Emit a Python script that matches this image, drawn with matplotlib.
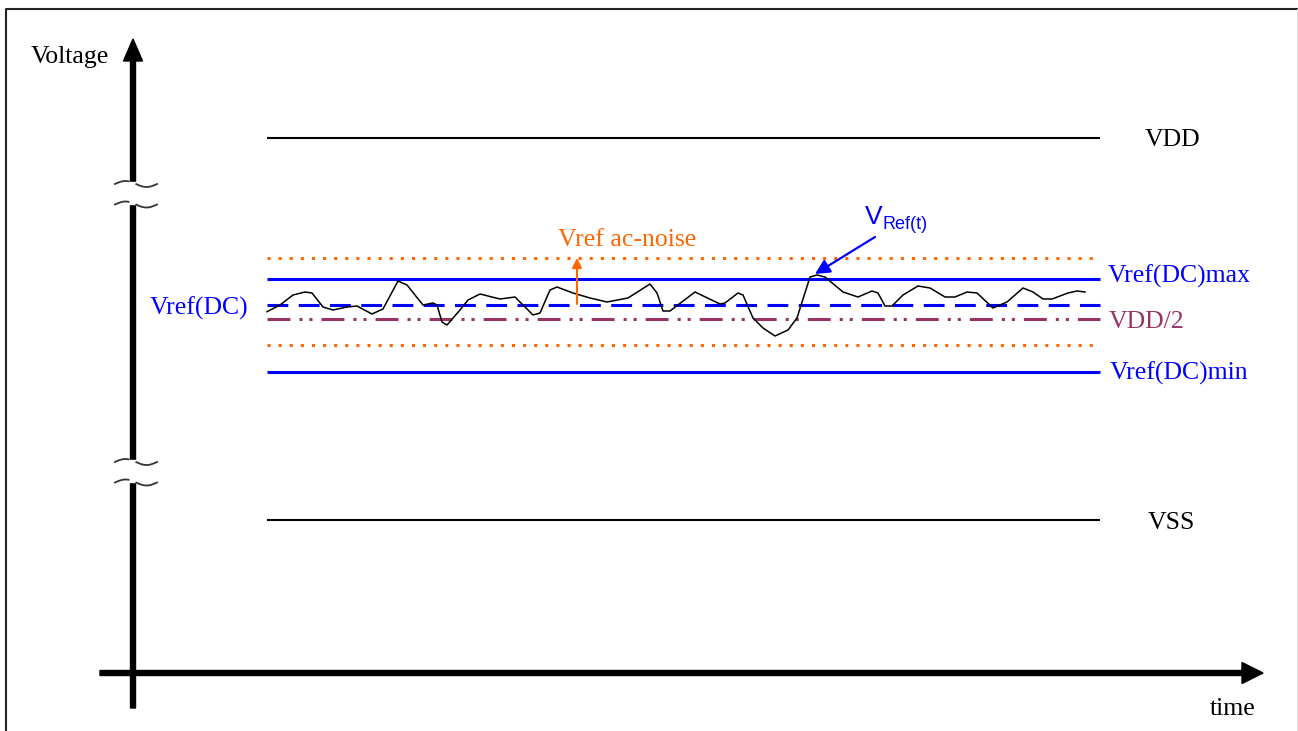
import numpy as np
import matplotlib
matplotlib.use('Agg')
import matplotlib.pyplot as plt
from matplotlib.patches import Rectangle

# Диаграмма в пиксельных координатах картинки (y растёт вниз)
W, H = 1298, 731

# Уровни напряжения
level_names = ['VDD', 'Vref(DC)max', 'Vref(DC)', 'VDD/2', 'Vref(DC)min', 'VSS']
level_y = [138, 279, 305, 319, 372, 520]
noise_band_y = [258, 345]   # границы Vref ac-noise
line_x = [267, 1100]        # начало и конец горизонтальных линий

# Сигнал VRef(t)
wave_t = [267, 280, 293, 305, 312, 323, 333, 347, 357, 372, 383, 398, 407, 423,
          433, 437, 442, 447, 460, 468, 480, 500, 515, 523, 533, 540, 550, 557,
          573, 590, 607, 628, 650, 657, 663, 670, 695, 720, 725, 738, 743, 753,
          763, 775, 788, 797, 810, 817, 825, 843, 858, 872, 878, 885, 892, 903,
          918, 930, 945, 955, 967, 977, 993, 1007, 1023, 1033, 1043, 1052, 1068,
          1077, 1085]
wave_v = [311.7, 305, 295, 292, 293, 307, 310, 307, 306, 314, 309, 281, 285, 305,
          303, 305, 322, 325, 310, 300, 294, 299, 297, 305, 315, 313, 290, 287,
          293, 298, 302, 298, 284, 293, 311, 311, 292, 304, 303, 293, 295, 318,
          328, 336, 330, 318, 277, 275, 277, 292, 297, 291, 293, 306, 306, 295,
          286, 288, 297, 297, 292, 293, 308, 302, 288, 292, 299, 299, 293,
          291, 292]

# Разрывы оси напряжения (центры пар волнистых линий)
break_y = [(184, 204.5), (462, 482.5)]

BLUE = '#0000FF'
ORANGE = '#FF6600'
PURPLE = '#993366'
SERIF = 'Liberation Serif'
SANS = 'Liberation Sans'

plt.rcParams['lines.scale_dashes'] = False

fig = plt.figure(figsize=(W / 100, H / 100), dpi=100)
ax = fig.add_axes([0, 0, 1, 1])
ax.set_xlim(0, W)
ax.set_ylim(H, 0)
ax.axis('off')

# рамка
ax.plot([6, 6, W], [H, 9, 9], color='#222222', lw=1.5, solid_capstyle='butt')
ax.plot([1297, 1297], [9, H], color='#dddddd', lw=0.8)

# оси со стрелками
ax.arrow(133, 708, 0, 39 - 708, width=5, head_width=19, head_length=22,
         length_includes_head=True, color='black', zorder=3)
ax.arrow(100, 673, 1263 - 100, 0, width=5, head_width=21, head_length=21,
         length_includes_head=True, color='black', zorder=3)

# разрывы оси
for y1, y2 in break_y:
    ax.add_patch(Rectangle((128.5, y1 - 2), 9, (y2 - y1) + 1, color='white', zorder=4))
    xs = np.linspace(115, 157, 60)
    for yc in (y1, y2):
        ys = yc - 3 * np.sin(2 * np.pi * (xs - 115) / 42)
        left = xs < 129
        right = xs > 136
        ax.plot(xs[left], ys[left], color='#333333', lw=1.3, zorder=5)
        ax.plot(xs[right], ys[right], color='#333333', lw=1.3, zorder=5)

# уровни
styles = {
    'VDD': dict(color='black', lw=1.5),
    'Vref(DC)max': dict(color=BLUE, lw=2.2),
    'Vref(DC)': dict(color=BLUE, lw=2.2, dashes=(15, 7.5)),
    'VDD/2': dict(color=PURPLE, lw=2.2, dashes=(16.5, 6.5, 2.2, 5, 2.2, 6.5)),
    'Vref(DC)min': dict(color=BLUE, lw=2.2),
    'VSS': dict(color='black', lw=1.5),
}
for name, y in zip(level_names, level_y):
    ax.plot(line_x, [y, y], solid_capstyle='butt', **styles[name])

for y in noise_band_y:
    ax.plot(line_x, [y, y], color=ORANGE, lw=2.2, dashes=(2.2, 5.8))

# сигнал
ax.plot(wave_t, wave_v, color='black', lw=1.1, zorder=3,
        solid_joinstyle='round')

# стрелки-подписи
ax.annotate('', xy=(577, noise_band_y[0]), xytext=(577, level_y[2] - 1),
            arrowprops=dict(arrowstyle='-|>', color=ORANGE, lw=1.5,
                            mutation_scale=14, shrinkA=0, shrinkB=0))
ax.annotate('', xy=(815, 274), xytext=(875, 237),
            arrowprops=dict(arrowstyle='-|>', color=BLUE, lw=1.6,
                            mutation_scale=22, shrinkA=0, shrinkB=0))

# подписи
fs = 18.5
ax.text(31, 63, 'Voltage', fontsize=fs, family=SERIF, va='baseline')
ax.text(1210, 715, 'time', fontsize=fs, family=SERIF, va='baseline')
ax.text(1145, 146, 'VDD', fontsize=fs, family=SERIF, va='baseline')
ax.text(1148, 529, 'VSS', fontsize=fs, family=SERIF, va='baseline')
ax.text(1108, 283, 'Vref(DC)max', fontsize=fs, family=SERIF, color=BLUE, va='baseline')
ax.text(1109, 328, 'VDD/2', fontsize=fs, family=SERIF, color=PURPLE, va='baseline')
ax.text(1110, 380, 'Vref(DC)min', fontsize=fs, family=SERIF, color=BLUE, va='baseline')
ax.text(150, 315, 'Vref(DC)', fontsize=fs, family=SERIF, color=BLUE, va='baseline')
ax.text(558, 246, 'Vref ac-noise', fontsize=fs, family=SERIF, color=ORANGE, va='baseline')
ax.text(865, 224, 'V', fontsize=19, family=SANS, color=BLUE, va='baseline')
ax.text(882, 229, 'Ref(t)', fontsize=13, family=SANS, color=BLUE, va='baseline')

plt.savefig('out.png', dpi=100)
